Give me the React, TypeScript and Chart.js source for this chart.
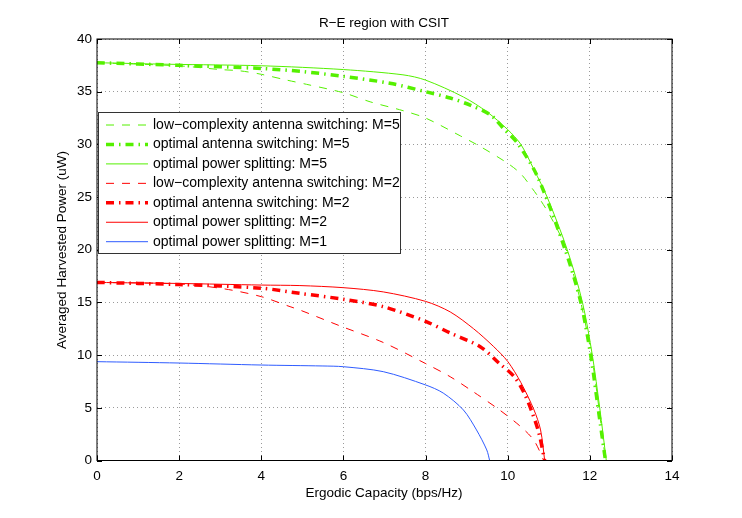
import { useEffect, useRef } from "react";
import { Chart, registerables, type Plugin } from "chart.js";

Chart.register(...registerables);

const xTicks = [0, 2, 4, 6, 8, 10, 12, 14];
const yTicks = [0, 5, 10, 15, 20, 25, 30, 35, 40];

// M=5
const lcM5X = [0, 2, 3, 3.48, 4, 4.62, 5.1, 6, 6.65, 7.45, 8, 8.85, 9.33, 10, 10.32, 10.6, 10.8, 11.05, 11.37, 11.57, 11.78, 12.04, 12.22, 12.38];
const lcM5Y = [37.75, 37.45, 37.1, 36.98, 36.65, 36.1, 35.7, 34.9, 34.04, 33.2, 32.5, 30.8, 29.8, 28.2, 27.2, 25.8, 24.7, 23.1, 20.6, 18.1, 15, 10, 5, 0];
const asM5X = [0, 2, 4, 5.03, 6, 7.13, 8, 8.6, 9.1, 9.58, 9.9, 10.24, 10.73, 11.4, 11.78, 12.02, 12.2, 12.38];
const asM5Y = [37.75, 37.5, 37.2, 36.9, 36.45, 35.8, 35.0, 34.4, 33.7, 32.8, 31.5, 30.1, 26.9, 20, 15, 10, 5, 0];
const psM5X = [0, 1.78, 4, 6, 7.45, 8, 8.92, 9.49, 10, 10.32, 10.64, 10.96, 11.45, 11.82, 12.06, 12.24, 12.4];
const psM5Y = [37.75, 37.6, 37.46, 37.1, 36.6, 36.1, 34.5, 33.1, 31.4, 30, 27.6, 25, 20, 15, 10, 5, 0];

// M=2
const lcM2X = [0, 2, 3.08, 4, 4.7, 4.94, 5.9, 6.97, 8, 8.6, 9.17, 9.8, 10.32, 10.64, 10.88];
const lcM2Y = [16.9, 16.75, 16.3, 15.55, 14.6, 14.28, 12.8, 11.2, 9.2, 7.95, 6.5, 4.8, 3.2, 1.9, 0];
const asM2X = [0, 2, 4, 4.94, 6, 6.97, 8, 8.6, 9.33, 9.8, 10.16, 10.4, 10.6, 10.76, 10.9];
const asM2Y = [16.9, 16.7, 16.35, 15.86, 15.3, 14.6, 13.2, 12.1, 10.8, 9.2, 7.95, 6.4, 4.5, 2.6, 0];
const psM2X = [0, 2, 4, 4.94, 6, 6.97, 8, 8.6, 9.17, 9.66, 10, 10.32, 10.64, 10.8, 10.9];
const psM2Y = [16.9, 16.8, 16.65, 16.6, 16.4, 16.0, 15.1, 14.1, 12.5, 10.8, 9.4, 7.4, 4.8, 2.9, 0];

// M=1
const psM1X = [0, 2, 4, 5.5, 6, 6.97, 8, 8.43, 8.92, 9.24, 9.49, 9.56];
const psM1Y = [9.38, 9.25, 9.06, 8.97, 8.9, 8.43, 7.17, 6.4, 4.8, 2.9, 1.0, 0];

const GREEN = "#55f000";
const RED = "#ff0000";
const BLUE = "#2f5cff";
const DASH = [8, 8];
const DASH_DOT = [8, 5, 1.5, 5];
const FONT = "'Liberation Sans', Arial, Helvetica, sans-serif";
const FONT_SIZE = 13.5;

const series = [
  { label: "low\u2212complexity antenna switching: M=5", xs: lcM5X, ys: lcM5Y, color: GREEN, width: 1, dash: DASH },
  { label: "optimal antenna switching: M=5", xs: asM5X, ys: asM5Y, color: GREEN, width: 3.5, dash: DASH_DOT },
  { label: "optimal power splitting: M=5", xs: psM5X, ys: psM5Y, color: GREEN, width: 1, dash: [] as number[] },
  { label: "low\u2212complexity antenna switching: M=2", xs: lcM2X, ys: lcM2Y, color: RED, width: 1, dash: DASH },
  { label: "optimal antenna switching: M=2", xs: asM2X, ys: asM2Y, color: RED, width: 3.5, dash: DASH_DOT },
  { label: "optimal power splitting: M=2", xs: psM2X, ys: psM2Y, color: RED, width: 1, dash: [] as number[] },
  { label: "optimal power splitting: M=1", xs: psM1X, ys: psM1Y, color: BLUE, width: 1, dash: [] as number[] },
];

const framePlugin: Plugin<"scatter"> = {
  id: "matlabFrame",
  afterDatasetsDraw(chart) {
    const { ctx, chartArea: a, scales } = chart;
    const x = scales.x;
    const y = scales.y;
    ctx.save();
    ctx.strokeStyle = "#000";
    ctx.lineWidth = 1;
    ctx.setLineDash([]);
    // box
    ctx.strokeRect(a.left, a.top, a.right - a.left, a.bottom - a.top);
    // inward ticks
    const tl = 5;
    ctx.beginPath();
    xTicks.forEach((v) => {
      const px = Math.round(x.getPixelForValue(v)) + 0.5;
      ctx.moveTo(px, a.bottom);
      ctx.lineTo(px, a.bottom - tl);
      ctx.moveTo(px, a.top);
      ctx.lineTo(px, a.top + tl);
    });
    yTicks.forEach((v) => {
      const py = Math.round(y.getPixelForValue(v)) + 0.5;
      ctx.moveTo(a.left, py);
      ctx.lineTo(a.left + tl, py);
      ctx.moveTo(a.right, py);
      ctx.lineTo(a.right - tl, py);
    });
    ctx.stroke();

    // legend
    const lx = 98.5;
    const ly = 112.5;
    const lw = 302;
    const lh = 141;
    ctx.fillStyle = "#fff";
    ctx.fillRect(lx, ly, lw, lh);
    ctx.strokeStyle = "#333";
    ctx.strokeRect(lx, ly, lw, lh);
    ctx.font = `14px ${FONT}`;
    ctx.textBaseline = "middle";
    ctx.textAlign = "left";
    series.forEach((s, i) => {
      const cy = 125 + i * 19.45;
      ctx.save();
      ctx.strokeStyle = s.color;
      ctx.lineWidth = s.width;
      ctx.setLineDash(s.dash);
      ctx.beginPath();
      ctx.moveTo(106, cy);
      ctx.lineTo(148, cy);
      ctx.stroke();
      ctx.restore();
      ctx.fillStyle = "#000";
      ctx.fillText(s.label, 153, cy);
    });

    // titles
    ctx.font = `${FONT_SIZE}px ${FONT}`;
    ctx.fillStyle = "#000";
    ctx.textAlign = "center";
    ctx.textBaseline = "alphabetic";
    ctx.fillText("R\u2212E region with CSIT", 384, 27);
    ctx.textBaseline = "middle";
    ctx.fillText("Ergodic Capacity (bps/Hz)", 384, 493);
    ctx.translate(62, 250);
    ctx.rotate(-Math.PI / 2);
    ctx.fillText("Averaged Harvested Power (uW)", 0, 0);
    ctx.restore();
  },
};

function ReChart() {
  const canvasRef = useRef<HTMLCanvasElement>(null);

  useEffect(() => {
    if (!canvasRef.current) {
      return;
    }

    const chart = new Chart(canvasRef.current, {
      type: "scatter",
      data: {
        datasets: series.map((s) => ({
          label: s.label,
          data: s.xs.map((xv, i) => ({ x: xv, y: s.ys[i] })),
          showLine: true,
          borderColor: s.color,
          backgroundColor: s.color,
          borderWidth: s.width,
          borderDash: s.dash,
          pointRadius: 0,
          tension: 0.3,
        })),
      },
      options: {
        responsive: false,
        animation: false,
        devicePixelRatio: 1,
        layout: {
          padding: { top: 39, right: 70, left: 0, bottom: 0 },
        },
        plugins: {
          legend: { display: false },
          tooltip: { enabled: false },
        },
        scales: {
          x: {
            type: "linear",
            min: 0,
            max: 14,
            afterBuildTicks(scale) {
              scale.ticks = xTicks.map((v) => ({ value: v }));
            },
            afterFit(scale) {
              scale.height = 57.5;
            },
            grid: {
              color: "#9a9a9a",
              lineWidth: 1,
              drawTicks: false,
            },
            border: { display: false, dash: [1, 3] },
            ticks: {
              color: "#000",
              padding: 8,
              maxRotation: 0,
              font: { family: FONT, size: FONT_SIZE },
            },
          },
          y: {
            type: "linear",
            min: 0,
            max: 40,
            afterBuildTicks(scale) {
              scale.ticks = yTicks.map((v) => ({ value: v }));
            },
            afterFit(scale) {
              scale.width = 97;
            },
            grid: {
              color: "#9a9a9a",
              lineWidth: 1,
              drawTicks: false,
            },
            border: { display: false, dash: [1, 3] },
            ticks: {
              color: "#000",
              padding: 5,
              font: { family: FONT, size: FONT_SIZE },
            },
          },
        },
      },
      plugins: [framePlugin],
    });

    return () => {
      chart.destroy();
    };
  }, []);

  return <canvas ref={canvasRef} width={742} height={518} style={{ width: 742, height: 518, display: "block" }} />;
}

export default function App() {
  return (
    <div style={{ position: "absolute", left: 0, top: 0, width: 742, height: 518, background: "#fff" }}>
      <ReChart />
    </div>
  );
}
